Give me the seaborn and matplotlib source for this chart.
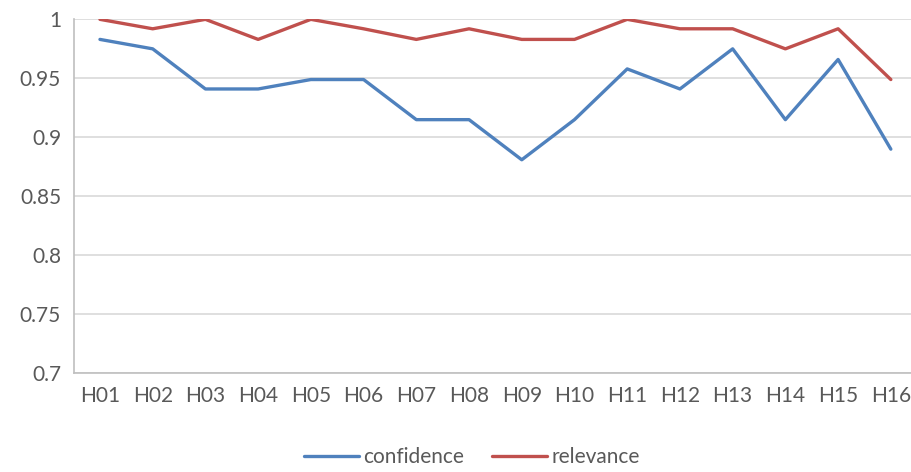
import pandas as pd
import seaborn as sns
import matplotlib.pyplot as plt

# data
labels = ['H01', 'H02', 'H03', 'H04', 'H05', 'H06', 'H07', 'H08',
          'H09', 'H10', 'H11', 'H12', 'H13', 'H14', 'H15', 'H16']
confidence = [0.983, 0.975, 0.941, 0.941, 0.949, 0.949, 0.915, 0.915,
              0.881, 0.915, 0.958, 0.941, 0.975, 0.915, 0.966, 0.890]
relevance = [1.000, 0.992, 1.000, 0.983, 1.000, 0.992, 0.983, 0.992,
             0.983, 0.983, 1.000, 0.992, 0.992, 0.975, 0.992, 0.949]

df = pd.DataFrame({'hypothesis': labels * 2,
                   'value': confidence + relevance,
                   'series': ['confidence'] * len(labels) + ['relevance'] * len(labels)})

sns.set_style('white')
plt.rcParams['font.family'] = ['Lato', 'DejaVu Sans']

fig = plt.figure(figsize=(9.11, 4.72), dpi=100)
ax = fig.add_axes([0.0808, 0.209, 0.926, 0.750])

sns.lineplot(data=df, x='hypothesis', y='value', hue='series',
             palette={'confidence': '#4F81BD', 'relevance': '#C0504D'},
             linewidth=2.4, ax=ax, sort=False)

ax.set_ylim(0.7, 1.0)
ax.set_xlim(-0.5, len(labels) - 0.5)
ax.set_yticks([0.7, 0.75, 0.8, 0.85, 0.9, 0.95, 1.0])
ax.set_yticklabels(['0.7', '0.75', '0.8', '0.85', '0.9', '0.95', '1'])
ax.yaxis.grid(True, color='#D9D9D9', linewidth=1.2)
ax.set_axisbelow(True)
ax.set_xlabel('')
ax.set_ylabel('')
for side in ['top', 'right']:
    ax.spines[side].set_visible(False)
for side in ['left', 'bottom']:
    ax.spines[side].set_color('#BFBFBF')
    ax.spines[side].set_linewidth(1.2)
ax.tick_params(axis='both', length=0, labelsize=15, colors='#595959', pad=9)

handles, names = ax.get_legend_handles_labels()
ax.legend(handles, names, loc='center', bbox_to_anchor=(0.472, -0.236),
          ncol=2, frameon=False, fontsize=15, labelcolor='#595959',
          handlelength=2.65, handletextpad=0.2, columnspacing=1.35)

fig.savefig('out.png', dpi=100)
